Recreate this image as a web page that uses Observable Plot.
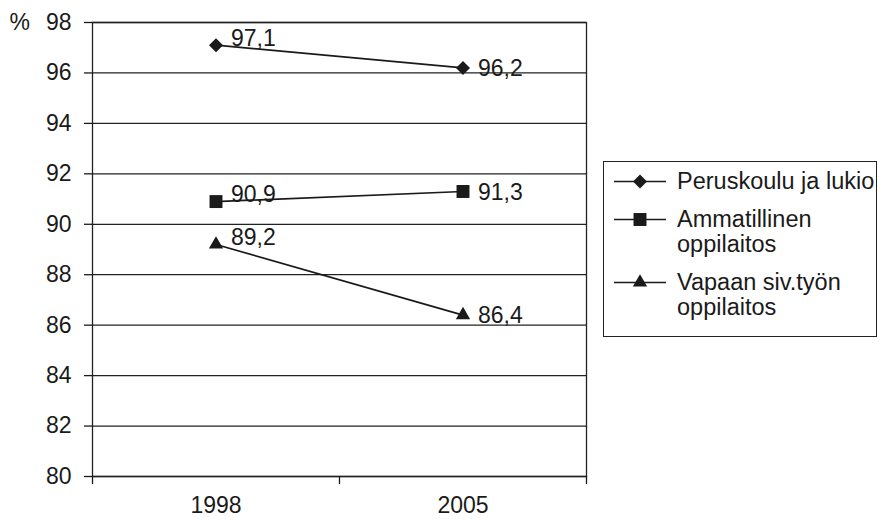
<!DOCTYPE html>
<html>
<head>
<meta charset="utf-8">
<script src="https://cdn.jsdelivr.net/npm/d3@7"></script>
<script src="https://cdn.jsdelivr.net/npm/@observablehq/plot@0.6"></script>
<style>
  html, body { margin: 0; padding: 0; background: #fff; }
  #wrap { position: relative; width: 879px; height: 527px; font-family: "Liberation Sans", Arial, sans-serif; color: #1a1a1a; }
  #legend { position: absolute; left: 603px; top: 161px; width: 272px; height: 167px; border: 1.5px solid #222; background: #fff; padding-top: 7px; box-sizing: content-box; }
  .row { display: flex; align-items: flex-start; margin-bottom: 13px; font-size: 23.5px; line-height: 25px; }
  .row svg { flex: none; margin-left: 10px; margin-right: 11px; }
</style>
</head>
<body>
<div id="wrap"><div id="chart"></div><div id="legend"></div></div>
<script>
const years = ["1998", "2005"];
const seriesNames = ["Peruskoulu ja lukio", "Ammatillinen oppilaitos", "Vapaan siv.työn oppilaitos"];
const legendLabels = [["Peruskoulu ja lukio"], ["Ammatillinen", "oppilaitos"], ["Vapaan siv.työn", "oppilaitos"]];
const peruskoulu = [97.1, 96.2];
const ammatillinen = [90.9, 91.3];
const vapaan = [89.2, 86.4];
const yTicks = [80, 82, 84, 86, 88, 90, 92, 94, 96, 98];

const seriesValues = [peruskoulu, ammatillinen, vapaan];
const symbols = ["diamond2", "square", "triangle"];
const symbolR = [6.3, 7.3, 5.3];
const d3Symbols = [d3.symbolDiamond2, d3.symbolSquare, d3.symbolTriangle];
const ink = "#1a1a1a";

const rows = [];
seriesValues.forEach((vals, s) => vals.forEach((v, i) =>
  rows.push({series: seriesNames[s], s, i, idx: i + 0.5, year: years[i], value: v})));

const fmt = v => d3.format(".1f")(v).replace(".", ",");

const marks = [
  Plot.ruleY(yTicks, {stroke: "#222", strokeWidth: 1.3}),
  Plot.frame({stroke: "#222", strokeWidth: 1.3}),
  Plot.axisY({ticks: yTicks, tickSize: 8, tickPadding: 13, label: null, strokeWidth: 1.3}),
  Plot.axisX({ticks: [0, 1, 2], tickSize: 8, tickFormat: () => "", label: null, strokeWidth: 1.3}),
  Plot.axisX({ticks: years.map((y, i) => i + 0.5), tickSize: 0, tickPadding: 20, label: null,
    tickFormat: d => years[Math.round(d - 0.5)]}),
  Plot.line(rows, {x: "idx", y: "value", z: "series", stroke: ink, strokeWidth: 1.7}),
  ...symbols.map((sym, s) => Plot.dot(rows.filter(d => d.s === s),
    {x: "idx", y: "value", symbol: () => sym, r: symbolR[s], fill: ink, stroke: "none"})),
  Plot.text(rows.filter(d => d.i === 0), {x: "idx", y: "value", text: d => fmt(d.value),
    textAnchor: "start", dx: 15, dy: -7, fill: ink}),
  Plot.text(rows.filter(d => d.i === 1), {x: "idx", y: "value", text: d => fmt(d.value),
    textAnchor: "start", dx: 15, dy: 1, fill: ink}),
  Plot.text(["%"], {frameAnchor: "top-left", dx: -83, lineAnchor: "middle", textAnchor: "start", fill: ink})
];

const chart = Plot.plot({
  width: 879, height: 527,
  marginLeft: 92, marginRight: 293, marginTop: 22, marginBottom: 51,
  x: {domain: [0, years.length], axis: null, label: null},
  y: {domain: [80, 98], axis: null, label: null},
  symbol: {type: "identity"},
  style: {fontFamily: "'Liberation Sans', Arial, sans-serif", fontSize: "23px", color: ink, background: "white"},
  marks
});
document.getElementById("chart").appendChild(chart);

const legend = d3.select("#legend");
legendLabels.forEach((lines, s) => {
  const row = legend.append("div").attr("class", "row");
  const svg = row.append("svg").attr("width", 52).attr("height", 25);
  svg.append("line").attr("x1", 0).attr("x2", 52).attr("y1", 12.5).attr("y2", 12.5)
    .attr("stroke", ink).attr("stroke-width", 1.7);
  svg.append("path").attr("transform", "translate(26,12.5)")
    .attr("d", d3.symbol(d3Symbols[s], Math.PI * symbolR[s] * symbolR[s])())
    .attr("fill", ink);
  const txt = row.append("div");
  lines.forEach(l => txt.append("div").text(l));
});
</script>
</body>
</html>
